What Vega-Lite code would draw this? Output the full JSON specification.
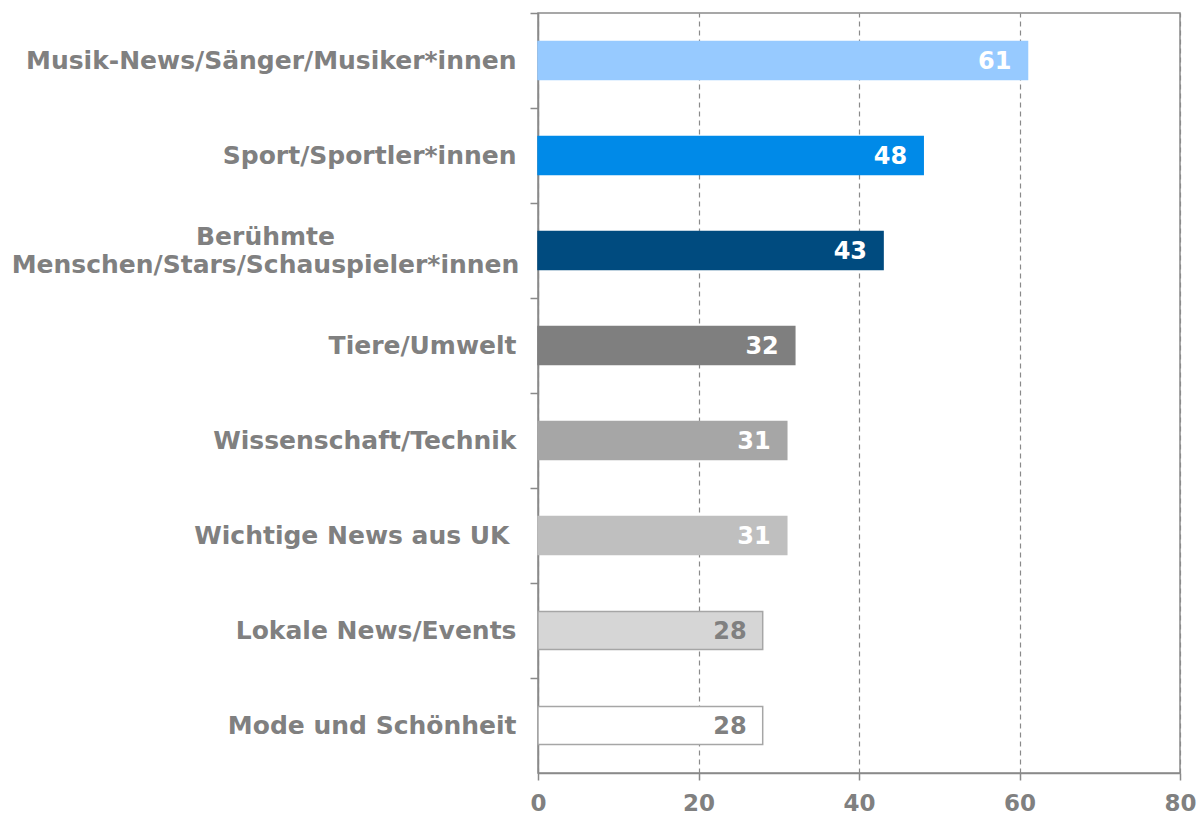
{
  "$schema": "https://vega.github.io/schema/vega-lite/v6.json",
  "width": 642,
  "height": 760,
  "autosize": {"type": "none"},
  "padding": {"left": 538, "top": 13, "right": 18, "bottom": 44},
  "background": "white",
  "config": {
    "font": "DejaVu Sans",
    "view": {"stroke": "#8a8a8a", "strokeWidth": 1.5}
  },
  "data": {
    "values": [
      {"kategorie": "Musik-News/Sänger/Musiker*innen", "wert": 61, "gruppe": "g1", "schrift": "hell"},
      {"kategorie": "Sport/Sportler*innen", "wert": 48, "gruppe": "g2", "schrift": "hell"},
      {"kategorie": "Berühmte|Menschen/Stars/Schauspieler*innen", "wert": 43, "gruppe": "g3", "schrift": "hell"},
      {"kategorie": "Tiere/Umwelt", "wert": 32, "gruppe": "g4", "schrift": "hell"},
      {"kategorie": "Wissenschaft/Technik", "wert": 31, "gruppe": "g5", "schrift": "hell"},
      {"kategorie": "Wichtige News aus UK", "wert": 31, "gruppe": "g6", "schrift": "hell"},
      {"kategorie": "Lokale News/Events", "wert": 28, "gruppe": "g7", "schrift": "dunkel"},
      {"kategorie": "Mode und Schönheit", "wert": 28, "gruppe": "g8", "schrift": "dunkel"}
    ]
  },
  "encoding": {
    "y": {
      "field": "kategorie",
      "type": "nominal",
      "sort": null,
      "title": null,
      "scale": {"paddingInner": 0.6, "paddingOuter": 0.3},
      "axis": {
        "labelExpr": "split(datum.label, '|')",
        "labelFontSize": 25,
        "labelFontWeight": "bold",
        "labelColor": "#808080",
        "labelLimit": 700,
        "labelLineHeight": 28,
        "labelPadding": {"condition": [
          {"test": "indexof(datum.value, '|') >= 0", "value": 265},
          {"test": "datum.value == 'Wichtige News aus UK'", "value": 21}
        ], "value": 14},
        "labelAlign": {"condition": {"test": "indexof(datum.value, '|') >= 0", "value": "center"}, "value": "right"},
        "labelOffset": {"condition": {"test": "indexof(datum.value, '|') >= 0", "value": 33.5}, "value": 47.5},
        "tickOffset": -47.5,
        "tickSize": 8,
        "tickColor": "#8a8a8a",
        "tickWidth": 1.5,
        "domainColor": "#8a8a8a",
        "domainWidth": 1.5
      }
    },
    "x": {
      "field": "wert",
      "type": "quantitative",
      "title": null,
      "scale": {"domain": [0, 80], "nice": false},
      "axis": {
        "values": [0, 20, 40, 60, 80],
        "grid": true,
        "gridDash": [5, 4],
        "gridColor": "#8a8a8a",
        "gridWidth": 1.2,
        "labelFontSize": 23,
        "labelFontWeight": "bold",
        "labelColor": "#808080",
        "labelFlush": false,
        "labelPadding": 12,
        "tickSize": 7,
        "tickColor": "#8a8a8a",
        "tickWidth": 1.5,
        "domainColor": "#8a8a8a",
        "domainWidth": 1.5
      }
    }
  },
  "layer": [
    {
      "mark": {"type": "bar", "strokeWidth": 1.5},
      "encoding": {
        "fill": {
          "field": "gruppe",
          "type": "nominal",
          "legend": null,
          "scale": {
            "domain": ["g1", "g2", "g3", "g4", "g5", "g6", "g7", "g8"],
            "range": ["#97caff", "#008ae8", "#004b7f", "#7f7f7f", "#a6a6a6", "#bfbfbf", "#d6d6d6", "#ffffff"]
          }
        },
        "stroke": {
          "field": "gruppe",
          "type": "nominal",
          "legend": null,
          "scale": {
            "domain": ["g1", "g2", "g3", "g4", "g5", "g6", "g7", "g8"],
            "range": ["#97caff", "#008ae8", "#004b7f", "#7f7f7f", "#a6a6a6", "#bfbfbf", "#a6a6a6", "#a6a6a6"]
          }
        }
      }
    },
    {
      "mark": {"type": "text", "align": "right", "baseline": "middle", "dx": -16, "dy": 1, "fontSize": 24, "fontWeight": "bold"},
      "encoding": {
        "text": {"field": "wert", "type": "quantitative"},
        "fill": {
          "field": "schrift",
          "type": "nominal",
          "legend": null,
          "scale": {"domain": ["hell", "dunkel"], "range": ["#ffffff", "#808080"]}
        }
      }
    }
  ],
  "resolve": {"scale": {"fill": "independent"}}
}
